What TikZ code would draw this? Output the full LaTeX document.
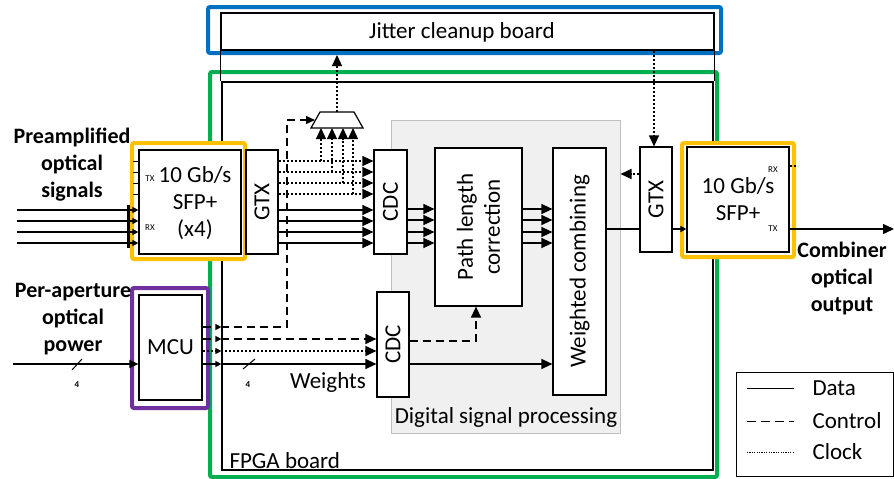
\documentclass[tikz,border=0pt]{standalone}
\usepackage{fontspec}
\setmainfont{Carlito}
\usepackage{tikz}
\usetikzlibrary{shapes.geometric, arrows.meta, positioning, calc}
\definecolor{jittercolor}{HTML}{0070C0}
\definecolor{fpgacolor}{HTML}{00B050}
\definecolor{sfpcolor}{HTML}{FFC000}
\definecolor{mcucolor}{HTML}{7030A0}
\definecolor{dspcolor}{HTML}{F0F0F0}

\begin{document}
\begin{tikzpicture}[x=1pt, y=-1pt, font=\fontsize{23}{27}\selectfont,
    blk/.style={rectangle, draw, fill=white, line width=1.2pt, inner sep=0pt},
    hilite/.style={rectangle, rounded corners=2pt, line width=4pt, inner sep=0pt},
    data/.style={line width=1.3pt},
    ctrl/.style={line width=1.3pt, dash pattern=on 8pt off 5pt},
    clk/.style={line width=1.2pt, dash pattern=on 2pt off 2pt},
    bigarrow/.style={-{Triangle[length=11pt,width=10pt]}},
    smallarrow/.style={-{Triangle[length=6pt,width=6pt]}},
    sidelabel/.style={font=\fontsize{22}{27}\selectfont\bfseries, align=center},
    port/.style={font=\fontsize{9}{9}\selectfont, inner sep=0pt},
    buswidth/.style={font=\fontsize{9}{9}\selectfont\bfseries, inner sep=0pt}]
    \useasboundingbox (0,0) rectangle (894,479);

    % Boards
    \node[hilite, draw=fpgacolor, minimum width=507pt, minimum height=405pt] (fpgaframe) at (463.5,274.5) {};
    \node[hilite, draw=jittercolor, minimum width=513pt, minimum height=46pt] (jitframe) at (464.5,30) {};
    \node[blk, fill=none, minimum width=493pt, minimum height=37pt] (jit) at (467.5,31.5) {};
    \node (jittext) at (462,32) {Jitter cleanup board};
    \node[blk, fill=none, minimum width=491pt, minimum height=388pt] (fpga) at (467.5,276) {};
    \draw[line width=1.2pt] (jit.south west) -- (jit.south west |- fpga.north);
    \draw[line width=1.2pt] (jit.south east) -- (jit.south east |- fpga.north);
    \node[anchor=west] (fpgalabel) at (226,461) {FPGA board};

    % DSP area
    \node[rectangle, draw=gray!50, fill=dspcolor, line width=1pt, minimum width=229pt, minimum height=313pt] (dsp) at (505.5,276.5) {};
    \node (dsplabel) at (506,417) {Digital signal processing};

    % Left side blocks
    \node[hilite, draw=sfpcolor, fill=white, minimum width=113pt, minimum height=116pt] (sfpLframe) at (188.5,201) {};
    \node[blk, minimum width=102pt, minimum height=104pt] (sfpL) at (190,202) {};
    \node[align=center] (sfpLtext) at (195,203) {10 Gb/s\\SFP+\\(x4)};
    \node[port] (txL) at (150,179) {TX};
    \node[port] (rxL) at (150,228) {RX};
    \node[blk, minimum width=32pt, minimum height=104pt] (gtxL) at (262,202) {};
    \node[rotate=90] (gtxLtext) at (gtxL) {GTX};
    \node[hilite, draw=mcucolor, fill=white, minimum width=76pt, minimum height=120pt] (mcuframe) at (170,348) {};
    \node[blk, minimum width=63pt, minimum height=105pt] (mcu) at (170.5,347.5) {MCU};

    % Processing blocks
    \node[blk, minimum width=33pt, minimum height=104pt] (cdcA) at (390.5,202) {};
    \node[rotate=90] (cdcAtext) at (cdcA) {CDC};
    \node[blk, minimum width=32pt, minimum height=105pt] (cdcB) at (393,344.5) {};
    \node[rotate=90] (cdcBtext) at (cdcB) {CDC};
    \node[blk, minimum width=87pt, minimum height=158pt] (plc) at (478.5,227) {};
    \node[rotate=90, align=center] (plctext) at (plc) {Path length\\correction};
    \node[blk, minimum width=53pt, minimum height=247pt] (wc) at (579.5,271.5) {};
    \node[rotate=90] (wctext) at (wc) {Weighted combining};

    % Clock mux
    \coordinate (muxtop) at (337,112);
    \coordinate (muxbot) at (337,128);
    \coordinate (muxleft) at (315,120);
    \draw[line width=1.2pt, fill=white] (311,128) -- (320,112) -- (354,112) -- (363,128) -- cycle;

    % Right side blocks
    \node[blk, minimum width=32pt, minimum height=105pt] (gtxR) at (656,199.5) {};
    \node[rotate=90] (gtxRtext) at (gtxR) {GTX};
    \node[hilite, draw=sfpcolor, fill=white, minimum width=112pt, minimum height=114pt] (sfpRframe) at (738,200) {};
    \node[blk, minimum width=102pt, minimum height=105pt, align=center] (sfpR) at (738,199.5) {10 Gb/s\\SFP+};
    \node[port] (rxR) at (773,170) {RX};
    \node[port] (txR) at (773,229) {TX};

    % Side labels
    \node[sidelabel] (inlabel) at (72,165) {Preamplified\\optical\\signals};
    \node[sidelabel] (pwrlabel) at (73,319) {Per-aperture\\optical\\power};
    \node[sidelabel] (outlabel) at (842,279) {Combiner\\optical\\output};

    % Optical inputs and SFP ports
    \foreach \y in {210,221,232,243}
        \draw[data, smallarrow] (17,\y) -- (sfpL.west |- 0,\y);
    \draw[line width=3pt] (128,205) -- (128,248);
    \foreach \y in {161,172,183,194}
        \draw[line width=1pt] (sfpL.west |- 0,\y) -- ++(-5,0);

    % GTX to CDC lanes
    \foreach \y in {161,172,183,194}
        \draw[clk, bigarrow] (gtxL.east |- 0,\y) -- (cdcA.west |- 0,\y);
    \foreach \y in {210,221,232,243}
        \draw[data, bigarrow] (gtxL.east |- 0,\y) -- (cdcA.west |- 0,\y);
    \foreach \x/\y in {321/161,332/172,343/183,353/194}
        \draw[clk, bigarrow] (\x,\y) -- (\x,0 |- muxbot);
    \draw[clk, bigarrow] (muxtop) -- (muxtop |- jitframe.south);

    % CDC to path length correction to weighted combining
    \foreach \y in {209,220,232,243} {
        \draw[data, bigarrow] (cdcA.east |- 0,\y) -- (plc.west |- 0,\y);
        \draw[data, bigarrow] (plc.east |- 0,\y) -- (wc.west |- 0,\y);
    }

    % MCU lanes
    \draw[data, -{Triangle[length=9pt,width=8pt]}] (13,364) -- (mcu.west |- 0,364);
    \draw[line width=1pt] (72,370) -- (82,359);
    \node[buswidth] (bwin) at (77,385) {4};
    \foreach \y/\s in {327/ctrl,339/ctrl,351/clk,364/data}
        \draw[\s, smallarrow] (mcu.east |- 0,\y) -- (fpga.west |- 0,\y);
    \draw[ctrl, -{Triangle[length=9pt,width=8pt]}] (fpga.west |- 0,327) -| (287,120) -- (muxleft);
    \draw[ctrl, bigarrow] (fpga.west |- 0,339) -- (cdcB.west |- 0,339);
    \draw[clk, bigarrow] (fpga.west |- 0,351) -- (cdcB.west |- 0,351);
    \draw[data, bigarrow] (fpga.west |- 0,364) -- (cdcB.west |- 0,364);
    \draw[line width=1pt] (243,369) -- (255,359);
    \node[buswidth] (bwweights) at (248,385) {4};
    \node (weights) at (328,382) {Weights};

    % CDC outputs
    \draw[ctrl, bigarrow] (cdcB.east |- 0,341) -| (476,0 |- plc.south);
    \draw[data, bigarrow] (cdcB.east |- 0,364) -- (wc.west |- 0,364);

    % Output path
    \coordinate (out) at (894,229);
    \draw[data] (wc.east |- out) -- (gtxR.west |- out);
    \draw[data, smallarrow] (gtxR.east |- out) -- (sfpR.west |- out);
    \draw[data, bigarrow] (sfpR.east |- out) -- (out);
    \draw[clk] (sfpR.east |- 0,166) -- ++(8,0);
    \draw[clk, bigarrow] (654,0 |- jit.south) -- (654,0 |- gtxR.north);
    \draw[clk, bigarrow] (gtxR.west |- 0,174) -- (dsp.east |- 0,174);

    % Legend
    \node[rectangle, draw, line width=1pt, minimum width=157pt, minimum height=104pt] (legend) at (814.5,424) {};
    \draw[line width=1pt] (747,388) -- (794,388);
    \draw[line width=1pt, dash pattern=on 9pt off 5pt] (747,421) -- (794,421);
    \draw[line width=0.8pt, dash pattern=on 1.2pt off 1.2pt] (747,452) -- (794,452);
    \node[anchor=west] (ldata) at (809,388) {Data};
    \node[anchor=west] (lctrl) at (809,421) {Control};
    \node[anchor=west] (lclk) at (809,452) {Clock};
\end{tikzpicture}
\end{document}
